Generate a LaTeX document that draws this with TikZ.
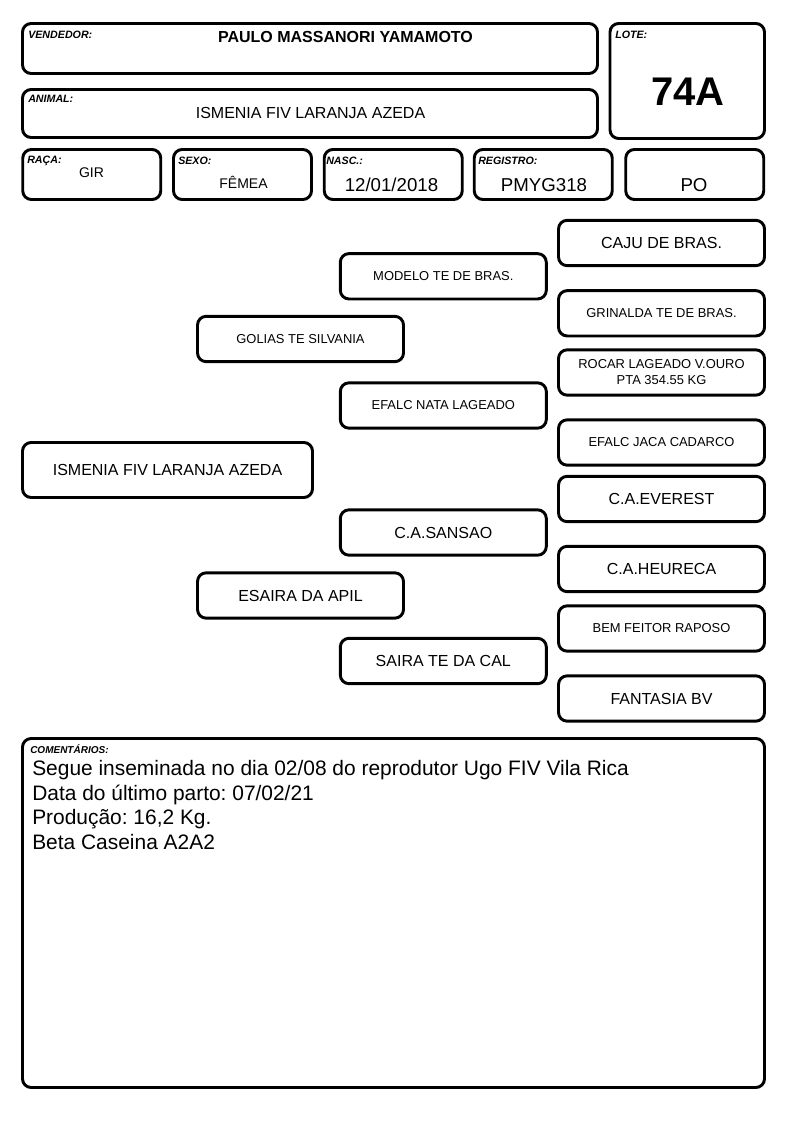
\documentclass[tikz,border=0pt]{standalone}
\usepackage{fontspec}
\setmainfont{Liberation Sans}
\usetikzlibrary{positioning}
\frenchspacing
\newcommand{\bigfont}{\fontsize{12}{14}\selectfont}
\newcommand{\smallfont}{\fontsize{9.7}{12}\selectfont}
\newcommand{\valfont}{\fontsize{10.5}{12}\selectfont}
\newcommand{\datafont}{\fontsize{14}{16}\selectfont}
\newcommand{\notefont}{\fontsize{15.7}{18}\selectfont}

\begin{document}
\begin{tikzpicture}[
    x=0.75pt, y=-0.75pt,
    box/.style={draw, line width=2.2pt, rounded corners=6.5pt, inner sep=0pt, align=center},
    ped/.style={box, minimum width=154.5pt, minimum height=34pt},
    lbl/.style={font=\fontsize{8}{9}\selectfont\bfseries\itshape, anchor=base west, inner sep=0pt},
    val/.style={anchor=base, inner sep=0pt},
]
\useasboundingbox (0,0) rectangle (794,1123);

% Header boxes
\node[box, minimum width=431.25pt, minimum height=37.5pt] (vendedor) at (310,48.5) {};
\node[box, minimum width=431.25pt, minimum height=36pt] (animal) at (310,113.5) {};
\node[box, minimum width=115.9pt, minimum height=86.25pt] (lote) at (687.25,81) {};
\foreach \n/\x in {raca/91.75, sexo/242.5, nasc/393.25, registro/543.25, categoria/694.75} {
    \node[box, minimum width=103.5pt, minimum height=37.5pt] (\n) at (\x,174.5) {};
}

% Header labels
\node[lbl] (lvendedor) at (28,39) {VENDEDOR:};
\node[lbl] (lanimal) at (28,103) {ANIMAL:};
\node[lbl] (llote) at (615,39) {LOTE:};
\node[lbl] (lraca) at (27,164) {RAÇA:};
\node[lbl] (lsexo) at (178,165) {SEXO:};
\node[lbl] (lnasc) at (326,165) {NASC.:};
\node[lbl] (lregistro) at (478,165) {REGISTRO:};

% Header values
\node[val, font=\bigfont\bfseries] (vvendedor) at (345.5,43) {PAULO MASSANORI YAMAMOTO};
\node[val, font=\bigfont] (vanimal) at (310.5,119) {ISMENIA FIV LARANJA AZEDA};
\node[val, font=\fontsize{30}{32}\selectfont\bfseries] (vlote) at (688,106) {74A};
\node[val, font=\valfont] (vraca) at (91.5,178) {GIR};
\node[val, font=\valfont] (vsexo) at (243.5,189) {FÊMEA};
\node[val, font=\datafont] (vnasc) at (391.5,192) {12/01/2018};
\node[val, font=\datafont] (vregistro) at (544,192) {PMYG318};
\node[val, font=\datafont] (vcategoria) at (694,192) {PO};

% Pedigree: animal
\node[box, minimum width=217.5pt, minimum height=41.25pt, font=\bigfont] (ismenia) at (167.5,470) {ISMENIA FIV LARANJA AZEDA};

% Pedigree: parents
\foreach \n/\y/\f/\t in {golias/339/\smallfont/GOLIAS TE SILVANIA, esaira/595.5/\bigfont/ESAIRA DA APIL} {
    \node[ped, font=\f] (\n) at (300.5,\y) {\t};
}

% Pedigree: grandparents
\foreach \n/\y/\f/\t in {modelo/276.3/\smallfont/MODELO TE DE BRAS., nata/405.5/\smallfont/EFALC NATA LAGEADO,
    sansao/532.5/\bigfont/C.A.SANSAO, saira/661/\bigfont/SAIRA TE DA CAL} {
    \node[ped, font=\f] (\n) at (443.3,\y) {\t};
}

% Pedigree: great-grandparents
\foreach \n/\y/\f/\t in {caju/243/\bigfont/CAJU DE BRAS., grinalda/313.3/\smallfont/GRINALDA TE DE BRAS.,
    rocar/372.5/\smallfont/{ROCAR LAGEADO V.OURO\\PTA 354.55 KG}, jaca/442.5/\smallfont/EFALC JACA CADARCO,
    everest/499/\bigfont/C.A.EVEREST, heureca/569/\bigfont/C.A.HEURECA,
    bemfeitor/628.5/\smallfont/BEM FEITOR RAPOSO, fantasia/698.5/\bigfont/FANTASIA BV} {
    \node[ped, font=\f] (\n) at (661.5,\y) {\t};
}

% Comments
\node[box, minimum width=556.5pt, minimum height=261.75pt] (comentarios) at (393.5,913) {};
\node[lbl, font=\fontsize{7.5}{9}\selectfont\bfseries\itshape] (lcomentarios) at (30,753) {COMENTÁRIOS:};
\node[val, anchor=base west, font=\notefont] (c1) at (32,775) {Segue inseminada no dia 02/08 do reprodutor Ugo FIV Vila Rica};
\node[val, anchor=base west, font=\notefont] (c2) at (32,800) {Data do último parto: 07/02/21};
\node[val, anchor=base west, font=\notefont] (c3) at (32,824) {Produção: 16,2 Kg.};
\node[val, anchor=base west, font=\notefont] (c4) at (32,849) {Beta Caseina A2A2};

\end{tikzpicture}
\end{document}
